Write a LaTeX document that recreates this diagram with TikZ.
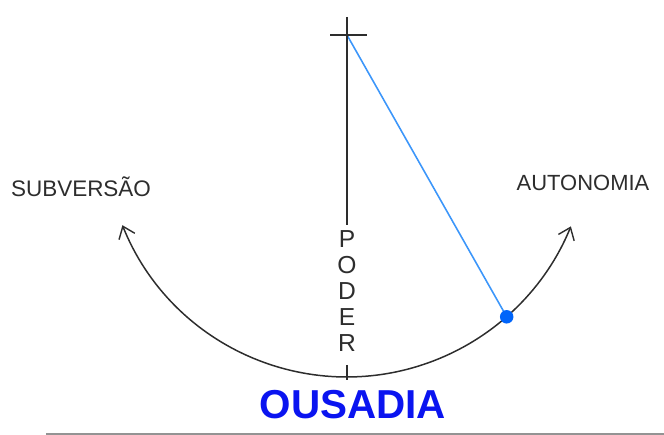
\documentclass[tikz,border=0pt]{standalone}
\usepackage{fontspec}
\setmainfont{Liberation Sans}
\usetikzlibrary{arrows.meta}
\definecolor{ink}{RGB}{45,45,45}
\definecolor{lblue}{RGB}{60,150,250}
\definecolor{dblue}{RGB}{0,100,250}
\definecolor{tblue}{RGB}{10,20,240}
\begin{document}
\begin{tikzpicture}[x=0.02cm,y=-0.02cm,
  axis/.style={draw=ink,line width=0.85pt},
  lbl/.style={text=ink,font=\fontsize{12.5}{14}\selectfont,inner sep=0pt},
  bothtips/.style={{Straight Barb[length=2.2mm,width=3.4mm,line width=0.8pt]}-{Straight Barb[length=2.2mm,width=3.4mm,line width=0.8pt]}}]
\useasboundingbox (0,0) rectangle (664,435);
% nodes
\coordinate (top) at (347,17);
\coordinate (cross) at (347,35);
\coordinate (crossL) at (330,35);
\coordinate (crossR) at (367,35);
\node[lbl,align=center,font=\fontsize{14}{14.8}\selectfont,inner ysep=3pt] (poder) at (347,291) {P\\O\\D\\E\\R};
\coordinate (tickT) at (347,365);
\coordinate (tickB) at (347,380);
\node[lbl,font=\fontsize{12.8}{14}\selectfont] (subv) at (81,187) {SUBVERSÃO};
\node[lbl] (auto) at (583,183) {AUTONOMIA};
\node[text=tblue,font=\bfseries\fontsize{23}{26}\selectfont,inner sep=0pt] (ousadia) at (353,405) {OUSADIA};
\coordinate (aL) at (122.4,225.2);
% arc
\draw[axis,bothtips] (aL) arc[start angle=201.9,end angle=337.8,radius=4.84cm];
\coordinate (dotc) at (506.7,316.8);
\draw[lblue,line width=0.9pt] (cross) -- (dotc);
\node[circle,fill=dblue,inner sep=0pt,minimum size=0.27cm] (dot) at (dotc) {};
% axis
\draw[axis] (top) -- (poder.north);
\draw[axis] (crossL) -- (crossR);
\draw[axis] (tickT) -- (tickB);
% bottom rule
\coordinate (ruleL) at (46,434);
\coordinate (ruleR) at (664,434);
\draw[draw=gray!85,line width=1pt] (ruleL) -- (ruleR);
\end{tikzpicture}
\end{document}
